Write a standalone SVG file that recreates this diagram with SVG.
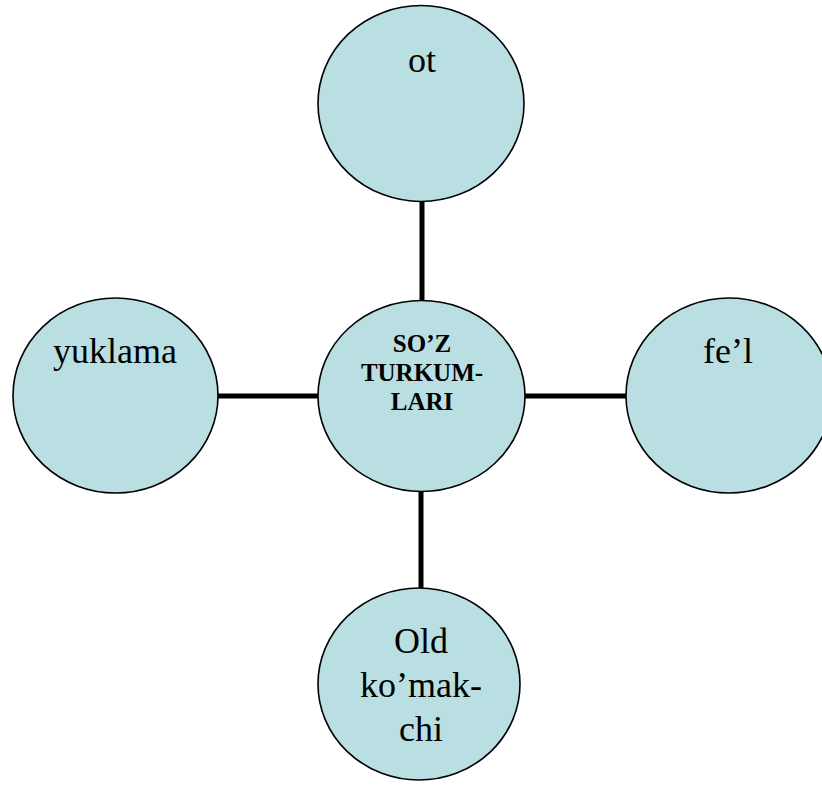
<svg xmlns="http://www.w3.org/2000/svg" width="822" height="785" viewBox="0 0 822 785">
<style>
.node ellipse{fill:#B9DFE3;stroke:#000;stroke-width:1.6}
.conn line{stroke:#000;stroke-width:5}
text{font-family:"Liberation Serif","Times New Roman",serif;fill:#000;text-anchor:middle}
.lbl{font-size:36px}
.ctr{font-size:25px;font-weight:bold}
</style>
<rect width="822" height="785" fill="#fff"/>
<g id="connectors" class="conn">
<line x1="422" y1="201" x2="422" y2="302"/>
<line x1="421" y1="491" x2="421" y2="589"/>
<line x1="217" y1="396" x2="319" y2="396"/>
<line x1="524" y1="396" x2="627" y2="396"/>
</g>
<g id="node-center" class="node">
<ellipse cx="421.5" cy="396" rx="103.5" ry="95.5"/>
<text class="ctr" x="422" y="352">SO’Z</text>
<text class="ctr" x="422" y="381">TURKUM-</text>
<text class="ctr" x="422" y="410">LARI</text>
</g>
<g id="node-ot" class="node">
<ellipse cx="421" cy="103.5" rx="103" ry="98"/>
<text class="lbl" x="422" y="72">ot</text>
</g>
<g id="node-yuklama" class="node">
<ellipse cx="115.5" cy="395.5" rx="102.5" ry="97.5"/>
<text class="lbl" x="115" y="363">yuklama</text>
</g>
<g id="node-fel" class="node">
<ellipse cx="729" cy="395.5" rx="103" ry="97.5"/>
<text class="lbl" x="728" y="363">fe’l</text>
</g>
<g id="node-old" class="node">
<ellipse cx="419" cy="684" rx="101" ry="96"/>
<text class="lbl" x="421" y="653">Old</text>
<text class="lbl" x="421" y="697">ko’mak-</text>
<text class="lbl" x="421" y="741">chi</text>
</g>
</svg>
